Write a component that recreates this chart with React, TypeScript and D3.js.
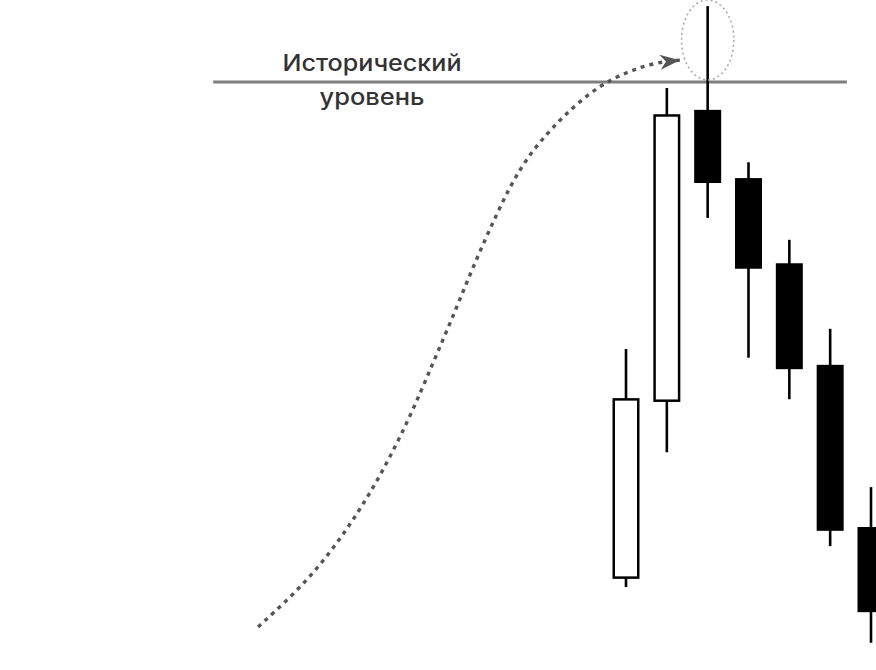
import React from "react";
import * as d3 from "d3";

// Candles (index 0..6), prices in arbitrary units (historical level = 100)
const candleIdx = [0, 1, 2, 3, 4, 5, 6];
const opens = [9.0, 41.4, 94.9, 82.4, 66.8, 48.2, 18.5];
const closes = [42.1, 94.1, 81.5, 65.8, 47.4, 17.8, 2.9];
const highs = [51.1, 98.9, 113.9, 85.3, 71.1, 54.8, 25.8];
const lows = [7.5, 32.2, 75.1, 49.5, 41.9, 15.0, -2.7];

const historicalLevel = 100;
const levelStartIdx = -10.11;
const levelEndIdx = 5.41;
const labelLines = ["Исторический", "уровень"];
const labelIdx = -6.22;

// Dashed trend arrow path (x in candle-index units, y in price units)
const pathX = [-9.01, -7.81, -6.83, -6.02, -5.29, -4.73, -4.24, -3.75, -3.16, -2.6, -1.93, -1.3, -0.64, 0.02, 0.66, 1.32];
const pathY = [0.2, 8.4, 17.9, 27.7, 38.6, 48.5, 57.0, 66.1, 76.0, 84.4, 90.7, 95.4, 99.4, 101.8, 103.5, 104.0];

// Highlight ellipse around the spike candle
const ellipseIdx = 2;
const ellipseCenterPrice = 107.7;
const ellipseHalfIdx = 0.64;
const ellipseHalfPrice = 7.33;

const W = 876;
const H = 670;

export default function App() {
  const x = d3.scaleLinear().domain([0, 6]).range([626, 871]);
  const y = d3.scaleLinear().domain([0, 100]).range([628, 82]);

  const bodyW = 27;
  const pts: [number, number][] = pathX.map((v, i) => [v, pathY[i]]);
  const line = d3
    .line<[number, number]>()
    .x((d) => x(d[0]))
    .y((d) => y(d[1]))
    .curve(d3.curveBasis);

  const lx = x(labelIdx);
  const ly = y(historicalLevel);

  return (
    <svg
      width={W}
      height={H}
      style={{ position: "absolute", left: 0, top: 0, display: "block", background: "#fff" }}
    >
      <defs>
        <marker
          id="arrowHead"
          viewBox="-20 -8 22 16"
          markerWidth={22}
          markerHeight={16}
          refX={0}
          refY={0}
          orient="auto"
          markerUnits="userSpaceOnUse"
        >
          <path d="M0,0 L-20,-7.5 L-14,0 L-20,7.5 Z" fill="#555" />
        </marker>
      </defs>

      {/* historical level */}
      <line
        x1={x(levelStartIdx)}
        x2={x(levelEndIdx)}
        y1={y(historicalLevel)}
        y2={y(historicalLevel)}
        stroke="#7f7f7f"
        strokeWidth={3}
      />

      {/* labels */}
      <text
        x={lx}
        y={ly - 11}
        textAnchor="middle"
        fontFamily="Inter, 'Open Sans', sans-serif"
        fontSize={23}
        fontWeight={500}
        fill="#333"
        textLength={179}
        lengthAdjust="spacingAndGlyphs"
      >
        {labelLines[0]}
      </text>
      <text
        x={lx}
        y={ly + 23}
        textAnchor="middle"
        fontFamily="Inter, 'Open Sans', sans-serif"
        fontSize={23}
        fontWeight={500}
        fill="#333"
        textLength={105}
        lengthAdjust="spacingAndGlyphs"
      >
        {labelLines[1]}
      </text>

      {/* dashed trend arrow */}
      <path
        d={line(pts) || ""}
        fill="none"
        stroke="#555"
        strokeWidth={3.4}
        strokeDasharray="4,5"
        markerEnd="url(#arrowHead)"
      />

      {/* candles */}
      {candleIdx.map((i) => {
        const cx = x(i);
        const bull = closes[i] >= opens[i];
        const top = y(Math.max(opens[i], closes[i]));
        const bot = y(Math.min(opens[i], closes[i]));
        return (
          <g key={i}>
            <line x1={cx} x2={cx} y1={y(highs[i])} y2={y(lows[i])} stroke="#000" strokeWidth={2.6} />
            {bull ? (
              <rect
                x={cx - bodyW / 2 + 1.25}
                y={top + 1.25}
                width={bodyW - 2.5}
                height={bot - top - 2.5}
                fill="#fff"
                stroke="#000"
                strokeWidth={2.5}
              />
            ) : (
              <rect x={cx - bodyW / 2} y={top} width={bodyW} height={bot - top} fill="#000" />
            )}
          </g>
        );
      })}

      {/* highlight ellipse */}
      <ellipse
        cx={x(ellipseIdx)}
        cy={y(ellipseCenterPrice)}
        rx={x(ellipseIdx + ellipseHalfIdx) - x(ellipseIdx)}
        ry={y(ellipseCenterPrice - ellipseHalfPrice) - y(ellipseCenterPrice)}
        fill="none"
        stroke="#aaa"
        strokeWidth={1.6}
        strokeDasharray="2,3"
      />
    </svg>
  );
}
